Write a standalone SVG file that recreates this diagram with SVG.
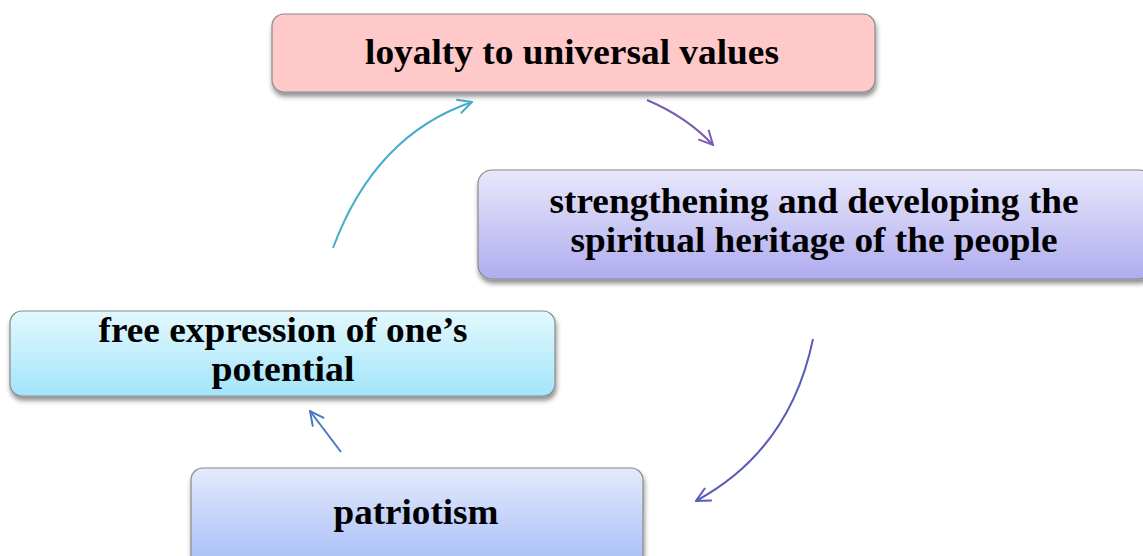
<svg xmlns="http://www.w3.org/2000/svg" width="1143" height="556" viewBox="0 0 1143 556">
<style>
.box{stroke:#8a8a8a;stroke-width:1.2}
.t{font-family:"Liberation Serif","Times New Roman",serif;font-weight:bold;font-size:35px;fill:#000;text-anchor:middle}
.c{fill:none;stroke-width:2}
</style>
<defs>
<filter id="sh" x="-5%" y="-10%" width="110%" height="130%">
<feGaussianBlur in="SourceAlpha" stdDeviation="2.5"/>
<feOffset dx="1" dy="4" result="b"/>
<feComponentTransfer><feFuncA type="linear" slope="0.45"/></feComponentTransfer>
<feMerge><feMergeNode/><feMergeNode in="SourceGraphic"/></feMerge>
</filter>
<linearGradient id="g2" x1="0" y1="0" x2="0" y2="1"><stop offset="0" stop-color="#e8e8fb"/><stop offset="1" stop-color="#b0acef"/></linearGradient>
<linearGradient id="g3" x1="0" y1="0" x2="0" y2="1"><stop offset="0" stop-color="#e2f8fd"/><stop offset="1" stop-color="#a3e5fa"/></linearGradient>
<linearGradient id="g4" x1="0" y1="0" x2="0" y2="1"><stop offset="0" stop-color="#e4eafc"/><stop offset="1" stop-color="#a6bdf7"/></linearGradient>
<marker id="mP" viewBox="0 0 12 12" refX="11" refY="6" markerWidth="17" markerHeight="17" markerUnits="userSpaceOnUse" orient="auto"><path d="M1,1 L11,6 L1,11" fill="none" stroke="#7a5db0" stroke-width="1.4"/></marker>
<marker id="mB" viewBox="0 0 12 12" refX="11" refY="6" markerWidth="17" markerHeight="17" markerUnits="userSpaceOnUse" orient="auto"><path d="M1,1 L11,6 L1,11" fill="none" stroke="#5a5cb8" stroke-width="1.4"/></marker>
<marker id="mL" viewBox="0 0 12 12" refX="11" refY="6" markerWidth="17" markerHeight="17" markerUnits="userSpaceOnUse" orient="auto"><path d="M1,1 L11,6 L1,11" fill="none" stroke="#4a78c2" stroke-width="1.4"/></marker>
<marker id="mC" viewBox="0 0 12 12" refX="11" refY="6" markerWidth="17" markerHeight="17" markerUnits="userSpaceOnUse" orient="auto"><path d="M1,1 L11,6 L1,11" fill="none" stroke="#45adc8" stroke-width="1.4"/></marker>
</defs>
<rect width="1143" height="556" fill="#fff"/>
<g id="connectors">
<path class="c" stroke="#7a5db0" marker-end="url(#mP)" d="M647,100 Q687,117 713,145"/>
<path class="c" stroke="#5a5cb8" marker-end="url(#mB)" d="M813,339 Q790,450 696,501"/>
<path class="c" stroke="#4a78c2" marker-end="url(#mL)" d="M341,452 L310,411"/>
<path class="c" stroke="#45adc8" marker-end="url(#mC)" d="M333,248 Q375,135 472,102"/>
</g>
<g id="node1">
<rect class="box" x="272" y="14" width="603" height="78" rx="12" fill="#ffc9c9" filter="url(#sh)"/>
<text class="t" x="572" y="64" textLength="414" lengthAdjust="spacingAndGlyphs">loyalty to universal values</text>
</g>
<g id="node2">
<rect class="box" x="478" y="170" width="675" height="109" rx="14" fill="url(#g2)" filter="url(#sh)"/>
<text class="t" x="814" y="213" textLength="529" lengthAdjust="spacingAndGlyphs">strengthening and developing the</text>
<text class="t" x="814" y="252" textLength="487" lengthAdjust="spacingAndGlyphs">spiritual heritage of the people</text>
</g>
<g id="node3">
<rect class="box" x="10" y="311" width="545" height="85" rx="12" fill="url(#g3)" filter="url(#sh)"/>
<text class="t" x="283" y="342" textLength="369" lengthAdjust="spacingAndGlyphs">free expression of one’s</text>
<text class="t" x="283" y="381" textLength="143" lengthAdjust="spacingAndGlyphs">potential</text>
</g>
<g id="node4">
<rect class="box" x="191" y="468" width="452" height="100" rx="12" fill="url(#g4)" filter="url(#sh)"/>
<text class="t" x="416" y="524" textLength="165" lengthAdjust="spacingAndGlyphs">patriotism</text>
</g>
</svg>
